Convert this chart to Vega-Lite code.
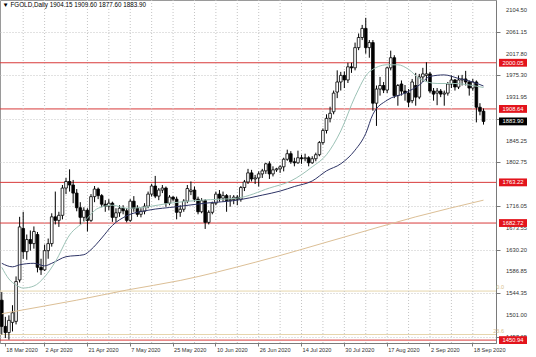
{
 "$schema": "https://vega.github.io/schema/vega-lite/v6.json",
 "width": 496,
 "height": 343,
 "autosize": {"type": "none"},
 "padding": {"left": 0, "top": 0, "right": 40, "bottom": 14},
 "background": "white",
 "config": {"view": {"stroke": "#9a9a9a", "strokeWidth": 1}, "font": "Liberation Sans"},
 "title": {"text": "▼ FGOLD,Daily  1904.15 1909.60 1877.60 1883.90", "anchor": "start", "orient": "top", "offset": -9, "dx": 3, "fontSize": 6.3, "fontWeight": "normal", "color": "#000000"},
 "datasets": {
  "bars": [
   {"d":"17 Mar 2020","o":1530,"h":1546,"l":1462,"c":1478},
   {"d":"18 Mar 2020","o":1478,"h":1497,"l":1455,"c":1466},
   {"d":"19 Mar 2020","o":1466,"h":1500,"l":1452,"c":1490},
   {"d":"20 Mar 2020","o":1486,"h":1520,"l":1468,"c":1505},
   {"d":"23 Mar 2020","o":1488,"h":1577,"l":1482,"c":1567},
   {"d":"24 Mar 2020","o":1570,"h":1695,"l":1565,"c":1675},
   {"d":"25 Mar 2020","o":1672,"h":1705,"l":1612,"c":1626},
   {"d":"26 Mar 2020","o":1626,"h":1660,"l":1610,"c":1650},
   {"d":"27 Mar 2020","o":1650,"h":1668,"l":1628,"c":1642},
   {"d":"30 Mar 2020","o":1642,"h":1676,"l":1632,"c":1666},
   {"d":"31 Mar 2020","o":1660,"h":1665,"l":1585,"c":1595},
   {"d":"1 Apr 2020","o":1595,"h":1612,"l":1580,"c":1590},
   {"d":"2 Apr 2020","o":1590,"h":1640,"l":1588,"c":1628},
   {"d":"3 Apr 2020","o":1628,"h":1652,"l":1612,"c":1642},
   {"d":"6 Apr 2020","o":1642,"h":1702,"l":1636,"c":1695},
   {"d":"7 Apr 2020","o":1695,"h":1745,"l":1680,"c":1688},
   {"d":"8 Apr 2020","o":1688,"h":1705,"l":1675,"c":1698},
   {"d":"9 Apr 2020","o":1698,"h":1758,"l":1690,"c":1752},
   {"d":"13 Apr 2020","o":1752,"h":1772,"l":1740,"c":1765},
   {"d":"14 Apr 2020","o":1765,"h":1789,"l":1745,"c":1758},
   {"d":"15 Apr 2020","o":1758,"h":1768,"l":1722,"c":1742},
   {"d":"16 Apr 2020","o":1742,"h":1750,"l":1706,"c":1713},
   {"d":"17 Apr 2020","o":1713,"h":1724,"l":1680,"c":1694},
   {"d":"20 Apr 2020","o":1694,"h":1714,"l":1686,"c":1708},
   {"d":"21 Apr 2020","o":1708,"h":1712,"l":1666,"c":1688},
   {"d":"22 Apr 2020","o":1688,"h":1740,"l":1685,"c":1735},
   {"d":"23 Apr 2020","o":1735,"h":1756,"l":1724,"c":1750},
   {"d":"24 Apr 2020","o":1750,"h":1753,"l":1730,"c":1737},
   {"d":"27 Apr 2020","o":1737,"h":1740,"l":1714,"c":1720},
   {"d":"28 Apr 2020","o":1720,"h":1728,"l":1705,"c":1716},
   {"d":"29 Apr 2020","o":1716,"h":1730,"l":1708,"c":1722},
   {"d":"30 Apr 2020","o":1722,"h":1725,"l":1685,"c":1694},
   {"d":"1 May 2020","o":1694,"h":1712,"l":1685,"c":1703},
   {"d":"4 May 2020","o":1703,"h":1718,"l":1695,"c":1712},
   {"d":"5 May 2020","o":1712,"h":1718,"l":1700,"c":1707},
   {"d":"6 May 2020","o":1707,"h":1712,"l":1684,"c":1688},
   {"d":"7 May 2020","o":1688,"h":1730,"l":1685,"c":1726},
   {"d":"8 May 2020","o":1726,"h":1736,"l":1705,"c":1712},
   {"d":"11 May 2020","o":1712,"h":1718,"l":1695,"c":1700},
   {"d":"12 May 2020","o":1700,"h":1712,"l":1694,"c":1706},
   {"d":"13 May 2020","o":1706,"h":1722,"l":1700,"c":1716},
   {"d":"14 May 2020","o":1716,"h":1745,"l":1712,"c":1740},
   {"d":"15 May 2020","o":1740,"h":1760,"l":1735,"c":1756},
   {"d":"18 May 2020","o":1756,"h":1776,"l":1732,"c":1736},
   {"d":"19 May 2020","o":1736,"h":1752,"l":1728,"c":1748},
   {"d":"20 May 2020","o":1748,"h":1758,"l":1742,"c":1752},
   {"d":"21 May 2020","o":1752,"h":1755,"l":1715,"c":1722},
   {"d":"22 May 2020","o":1722,"h":1738,"l":1718,"c":1734},
   {"d":"25 May 2020","o":1734,"h":1736,"l":1726,"c":1730},
   {"d":"26 May 2020","o":1730,"h":1735,"l":1690,"c":1704},
   {"d":"27 May 2020","o":1704,"h":1718,"l":1695,"c":1710},
   {"d":"28 May 2020","o":1710,"h":1730,"l":1705,"c":1726},
   {"d":"29 May 2020","o":1726,"h":1758,"l":1722,"c":1751},
   {"d":"1 Jun 2020","o":1745,"h":1765,"l":1738,"c":1748},
   {"d":"2 Jun 2020","o":1748,"h":1755,"l":1725,"c":1730},
   {"d":"3 Jun 2020","o":1730,"h":1735,"l":1700,"c":1705},
   {"d":"4 Jun 2020","o":1705,"h":1732,"l":1702,"c":1727},
   {"d":"5 Jun 2020","o":1727,"h":1730,"l":1671,"c":1684},
   {"d":"8 Jun 2020","o":1684,"h":1708,"l":1680,"c":1704},
   {"d":"9 Jun 2020","o":1704,"h":1725,"l":1700,"c":1722},
   {"d":"10 Jun 2020","o":1722,"h":1745,"l":1718,"c":1740},
   {"d":"11 Jun 2020","o":1740,"h":1748,"l":1725,"c":1732},
   {"d":"12 Jun 2020","o":1732,"h":1745,"l":1725,"c":1737},
   {"d":"15 Jun 2020","o":1737,"h":1740,"l":1705,"c":1727},
   {"d":"16 Jun 2020","o":1727,"h":1738,"l":1715,"c":1729},
   {"d":"17 Jun 2020","o":1729,"h":1738,"l":1720,"c":1734},
   {"d":"18 Jun 2020","o":1734,"h":1738,"l":1718,"c":1730},
   {"d":"19 Jun 2020","o":1730,"h":1756,"l":1725,"c":1753},
   {"d":"22 Jun 2020","o":1753,"h":1768,"l":1746,"c":1764},
   {"d":"23 Jun 2020","o":1764,"h":1790,"l":1760,"c":1782},
   {"d":"24 Jun 2020","o":1782,"h":1788,"l":1765,"c":1770},
   {"d":"25 Jun 2020","o":1770,"h":1778,"l":1760,"c":1772},
   {"d":"26 Jun 2020","o":1772,"h":1785,"l":1755,"c":1780},
   {"d":"29 Jun 2020","o":1780,"h":1790,"l":1772,"c":1786},
   {"d":"30 Jun 2020","o":1786,"h":1802,"l":1780,"c":1800},
   {"d":"1 Jul 2020","o":1800,"h":1805,"l":1770,"c":1780},
   {"d":"2 Jul 2020","o":1780,"h":1795,"l":1775,"c":1788},
   {"d":"3 Jul 2020","o":1788,"h":1792,"l":1784,"c":1790},
   {"d":"6 Jul 2020","o":1790,"h":1797,"l":1782,"c":1794},
   {"d":"7 Jul 2020","o":1794,"h":1812,"l":1785,"c":1809},
   {"d":"8 Jul 2020","o":1809,"h":1828,"l":1806,"c":1820},
   {"d":"9 Jul 2020","o":1820,"h":1825,"l":1800,"c":1804},
   {"d":"10 Jul 2020","o":1804,"h":1812,"l":1795,"c":1802},
   {"d":"13 Jul 2020","o":1802,"h":1826,"l":1800,"c":1812},
   {"d":"14 Jul 2020","o":1812,"h":1818,"l":1800,"c":1810},
   {"d":"15 Jul 2020","o":1810,"h":1820,"l":1805,"c":1812},
   {"d":"16 Jul 2020","o":1812,"h":1815,"l":1795,"c":1802},
   {"d":"17 Jul 2020","o":1802,"h":1815,"l":1800,"c":1810},
   {"d":"20 Jul 2020","o":1810,"h":1822,"l":1805,"c":1818},
   {"d":"21 Jul 2020","o":1818,"h":1845,"l":1815,"c":1842},
   {"d":"22 Jul 2020","o":1842,"h":1870,"l":1838,"c":1866},
   {"d":"23 Jul 2020","o":1866,"h":1898,"l":1860,"c":1890},
   {"d":"24 Jul 2020","o":1890,"h":1913,"l":1882,"c":1900},
   {"d":"27 Jul 2020","o":1903,"h":1945,"l":1898,"c":1940},
   {"d":"28 Jul 2020","o":1942,"h":1985,"l":1930,"c":1962},
   {"d":"29 Jul 2020","o":1962,"h":1982,"l":1945,"c":1975},
   {"d":"30 Jul 2020","o":1975,"h":1983,"l":1950,"c":1966},
   {"d":"31 Jul 2020","o":1966,"h":2000,"l":1960,"c":1992},
   {"d":"3 Aug 2020","o":1992,"h":2000,"l":1980,"c":1990},
   {"d":"4 Aug 2020","o":1990,"h":2040,"l":1985,"c":2030},
   {"d":"5 Aug 2020","o":2030,"h":2058,"l":2025,"c":2050},
   {"d":"6 Aug 2020","o":2050,"h":2075,"l":2045,"c":2068},
   {"d":"7 Aug 2020","o":2068,"h":2089,"l":2018,"c":2030},
   {"d":"10 Aug 2020","o":2030,"h":2045,"l":2010,"c":2040},
   {"d":"11 Aug 2020","o":2040,"h":2045,"l":1905,"c":1920},
   {"d":"12 Aug 2020","o":1920,"h":1955,"l":1875,"c":1948},
   {"d":"13 Aug 2020","o":1948,"h":1972,"l":1935,"c":1955},
   {"d":"14 Aug 2020","o":1955,"h":1962,"l":1940,"c":1946},
   {"d":"17 Aug 2020","o":1946,"h":1992,"l":1940,"c":1990},
   {"d":"18 Aug 2020","o":1990,"h":2024,"l":1985,"c":2010},
   {"d":"19 Aug 2020","o":2010,"h":2015,"l":1930,"c":1935},
   {"d":"20 Aug 2020","o":1935,"h":1958,"l":1915,"c":1955},
   {"d":"21 Aug 2020","o":1958,"h":1965,"l":1935,"c":1944},
   {"d":"24 Aug 2020","o":1944,"h":1956,"l":1925,"c":1940},
   {"d":"25 Aug 2020","o":1940,"h":1948,"l":1912,"c":1922},
   {"d":"26 Aug 2020","o":1925,"h":1968,"l":1920,"c":1962},
   {"d":"27 Aug 2020","o":1955,"h":1980,"l":1915,"c":1932},
   {"d":"28 Aug 2020","o":1932,"h":1978,"l":1928,"c":1972},
   {"d":"31 Aug 2020","o":1972,"h":1990,"l":1962,"c":1978},
   {"d":"1 Sep 2020","o":1975,"h":2001,"l":1962,"c":1978},
   {"d":"2 Sep 2020","o":1978,"h":1982,"l":1940,"c":1944},
   {"d":"3 Sep 2020","o":1944,"h":1950,"l":1925,"c":1938},
   {"d":"4 Sep 2020","o":1940,"h":1950,"l":1916,"c":1944},
   {"d":"7 Sep 2020","o":1944,"h":1948,"l":1932,"c":1938},
   {"d":"8 Sep 2020","o":1938,"h":1945,"l":1915,"c":1940},
   {"d":"9 Sep 2020","o":1940,"h":1962,"l":1935,"c":1958},
   {"d":"10 Sep 2020","o":1958,"h":1975,"l":1950,"c":1966},
   {"d":"11 Sep 2020","o":1966,"h":1968,"l":1945,"c":1952},
   {"d":"14 Sep 2020","o":1952,"h":1975,"l":1948,"c":1966},
   {"d":"15 Sep 2020","o":1966,"h":1976,"l":1955,"c":1968},
   {"d":"16 Sep 2020","o":1968,"h":1984,"l":1955,"c":1962},
   {"d":"17 Sep 2020","o":1962,"h":1965,"l":1935,"c":1950},
   {"d":"18 Sep 2020","o":1950,"h":1968,"l":1945,"c":1962},
   {"d":"21 Sep 2020","o":1962,"h":1965,"l":1882,"c":1912},
   {"d":"22 Sep 2020","o":1912,"h":1920,"l":1896,"c":1904},
   {"d":"23 Sep 2020","o":1904.15,"h":1909.6,"l":1877.6,"c":1883.9}
  ],
  "ma": [
   {"s":"long","d":"17 Mar 2020","v":1503},
   {"s":"long","d":"20 Mar 2020","v":1507},
   {"s":"long","d":"16 Apr 2020","v":1530},
   {"s":"long","d":"6 May 2020","v":1550},
   {"s":"long","d":"27 May 2020","v":1569},
   {"s":"long","d":"25 Jun 2020","v":1605},
   {"s":"long","d":"30 Jul 2020","v":1655},
   {"s":"long","d":"27 Aug 2020","v":1695},
   {"s":"long","d":"23 Sep 2020","v":1728},
   {"s":"slow","d":"17 Mar 2020","v":1603},
   {"s":"slow","d":"20 Mar 2020","v":1596},
   {"s":"slow","d":"24 Mar 2020","v":1600},
   {"s":"slow","d":"30 Mar 2020","v":1603},
   {"s":"slow","d":"2 Apr 2020","v":1598},
   {"s":"slow","d":"6 Apr 2020","v":1603},
   {"s":"slow","d":"13 Apr 2020","v":1616},
   {"s":"slow","d":"20 Apr 2020","v":1620},
   {"s":"slow","d":"22 Apr 2020","v":1630},
   {"s":"slow","d":"27 Apr 2020","v":1653},
   {"s":"slow","d":"30 Apr 2020","v":1678},
   {"s":"slow","d":"6 May 2020","v":1697},
   {"s":"slow","d":"14 May 2020","v":1708},
   {"s":"slow","d":"26 May 2020","v":1715},
   {"s":"slow","d":"5 Jun 2020","v":1722},
   {"s":"slow","d":"18 Jun 2020","v":1728},
   {"s":"slow","d":"29 Jun 2020","v":1738},
   {"s":"slow","d":"6 Jul 2020","v":1746},
   {"s":"slow","d":"10 Jul 2020","v":1755},
   {"s":"slow","d":"17 Jul 2020","v":1766},
   {"s":"slow","d":"23 Jul 2020","v":1786},
   {"s":"slow","d":"29 Jul 2020","v":1800},
   {"s":"slow","d":"4 Aug 2020","v":1827},
   {"s":"slow","d":"7 Aug 2020","v":1860},
   {"s":"slow","d":"11 Aug 2020","v":1898},
   {"s":"slow","d":"17 Aug 2020","v":1926},
   {"s":"slow","d":"24 Aug 2020","v":1940},
   {"s":"slow","d":"28 Aug 2020","v":1956},
   {"s":"slow","d":"2 Sep 2020","v":1973},
   {"s":"slow","d":"8 Sep 2020","v":1976},
   {"s":"slow","d":"14 Sep 2020","v":1969},
   {"s":"slow","d":"18 Sep 2020","v":1962},
   {"s":"slow","d":"23 Sep 2020","v":1954},
   {"s":"fast","d":"17 Mar 2020","v":1595},
   {"s":"fast","d":"19 Mar 2020","v":1572},
   {"s":"fast","d":"23 Mar 2020","v":1560},
   {"s":"fast","d":"25 Mar 2020","v":1554},
   {"s":"fast","d":"30 Mar 2020","v":1558},
   {"s":"fast","d":"2 Apr 2020","v":1576},
   {"s":"fast","d":"7 Apr 2020","v":1606},
   {"s":"fast","d":"14 Apr 2020","v":1659},
   {"s":"fast","d":"20 Apr 2020","v":1685},
   {"s":"fast","d":"24 Apr 2020","v":1712},
   {"s":"fast","d":"30 Apr 2020","v":1718},
   {"s":"fast","d":"6 May 2020","v":1712},
   {"s":"fast","d":"14 May 2020","v":1715},
   {"s":"fast","d":"22 May 2020","v":1722},
   {"s":"fast","d":"4 Jun 2020","v":1728},
   {"s":"fast","d":"18 Jun 2020","v":1732},
   {"s":"fast","d":"1 Jul 2020","v":1752},
   {"s":"fast","d":"9 Jul 2020","v":1766},
   {"s":"fast","d":"17 Jul 2020","v":1794},
   {"s":"fast","d":"23 Jul 2020","v":1818},
   {"s":"fast","d":"29 Jul 2020","v":1865},
   {"s":"fast","d":"4 Aug 2020","v":1933},
   {"s":"fast","d":"10 Aug 2020","v":1982},
   {"s":"fast","d":"17 Aug 2020","v":1996},
   {"s":"fast","d":"20 Aug 2020","v":1996},
   {"s":"fast","d":"25 Aug 2020","v":1987},
   {"s":"fast","d":"28 Aug 2020","v":1969},
   {"s":"fast","d":"4 Sep 2020","v":1959},
   {"s":"fast","d":"11 Sep 2020","v":1959},
   {"s":"fast","d":"17 Sep 2020","v":1956},
   {"s":"fast","d":"23 Sep 2020","v":1951}
  ],
  "grid": [
   {"d":"25 Mar 2020"},{"d":"2 Apr 2020"},{"d":"13 Apr 2020"},{"d":"21 Apr 2020"},{"d":"29 Apr 2020"},{"d":"7 May 2020"},{"d":"15 May 2020"},{"d":"25 May 2020"},{"d":"2 Jun 2020"},{"d":"10 Jun 2020"},{"d":"18 Jun 2020"},{"d":"26 Jun 2020"},{"d":"6 Jul 2020"},{"d":"14 Jul 2020"},{"d":"22 Jul 2020"},{"d":"30 Jul 2020"},{"d":"7 Aug 2020"},{"d":"17 Aug 2020"},{"d":"25 Aug 2020"},{"d":"2 Sep 2020"},{"d":"10 Sep 2020"},{"d":"18 Sep 2020"}
  ],
  "ticks": [{"v":2104.5},{"v":2061.15},{"v":2017.8},{"v":1975.3},{"v":1931.95},{"v":1845.25},{"v":1802.75},{"v":1716.05},{"v":1673.55},{"v":1630.2},{"v":1586.85},{"v":1544.35},{"v":1501.0},{"v":1457.65}],
  "levels": [{"v":2000.05},{"v":1908.64},{"v":1763.22},{"v":1682.72},{"v":1450.94}],
  "price": [{"v":1883.9}],
  "fib": [{"v":1548,"t":"0.0"},{"v":1462,"t":"23.6"}]
 },
 "layer": [
  {
   "data": {"name": "levels"},
   "mark": {"type": "rule", "color": "#d83a3a", "strokeWidth": 1},
   "encoding": {
    "y": {"field": "v", "type": "quantitative", "title": null, "scale": {"domain": [1445.2, 2124.3], "nice": false, "zero": false},
     "axis": {"orient": "right", "title": null, "values": [2104.5, 2061.15, 2017.8, 1975.3, 1931.95, 1888.6, 1845.25, 1802.75, 1759.4, 1716.05, 1673.55, 1630.2, 1586.85, 1544.35, 1501.0, 1457.65], "labels": false, "grid": true, "gridColor": "#c4c4c4", "gridDash": [1, 2], "domainColor": "#7a7a7a", "tickColor": "#7a7a7a", "tickSize": 4}}
   }
  },
  {
   "data": {"name": "ticks"},
   "mark": {"type": "text", "color": "#333333", "fontSize": 5.8, "align": "left", "baseline": "middle", "x": {"expr": "width + 10"}},
   "encoding": {
    "y": {"field": "v", "type": "quantitative", "title": null, "scale": {"domain": [1445.2, 2124.3], "nice": false, "zero": false}},
    "text": {"field": "v", "type": "quantitative", "format": ".2f"}
   }
  },
  {
   "data": {"name": "fib"},
   "mark": {"type": "rule", "color": "#e6d6ad", "strokeWidth": 1},
   "encoding": {"y": {"field": "v", "type": "quantitative", "title": null, "scale": {"domain": [1445.2, 2124.3], "nice": false, "zero": false}}}
  },
  {
   "encoding": {
    "x": {"field": "d", "type": "ordinal",
     "scale": {"type": "band", "paddingInner": 0.25, "paddingOuter": 0.125, "domain": ["17 Mar 2020","18 Mar 2020","19 Mar 2020","20 Mar 2020","23 Mar 2020","24 Mar 2020","25 Mar 2020","26 Mar 2020","27 Mar 2020","30 Mar 2020","31 Mar 2020","1 Apr 2020","2 Apr 2020","3 Apr 2020","6 Apr 2020","7 Apr 2020","8 Apr 2020","9 Apr 2020","13 Apr 2020","14 Apr 2020","15 Apr 2020","16 Apr 2020","17 Apr 2020","20 Apr 2020","21 Apr 2020","22 Apr 2020","23 Apr 2020","24 Apr 2020","27 Apr 2020","28 Apr 2020","29 Apr 2020","30 Apr 2020","1 May 2020","4 May 2020","5 May 2020","6 May 2020","7 May 2020","8 May 2020","11 May 2020","12 May 2020","13 May 2020","14 May 2020","15 May 2020","18 May 2020","19 May 2020","20 May 2020","21 May 2020","22 May 2020","25 May 2020","26 May 2020","27 May 2020","28 May 2020","29 May 2020","1 Jun 2020","2 Jun 2020","3 Jun 2020","4 Jun 2020","5 Jun 2020","8 Jun 2020","9 Jun 2020","10 Jun 2020","11 Jun 2020","12 Jun 2020","15 Jun 2020","16 Jun 2020","17 Jun 2020","18 Jun 2020","19 Jun 2020","22 Jun 2020","23 Jun 2020","24 Jun 2020","25 Jun 2020","26 Jun 2020","29 Jun 2020","30 Jun 2020","1 Jul 2020","2 Jul 2020","3 Jul 2020","6 Jul 2020","7 Jul 2020","8 Jul 2020","9 Jul 2020","10 Jul 2020","13 Jul 2020","14 Jul 2020","15 Jul 2020","16 Jul 2020","17 Jul 2020","20 Jul 2020","21 Jul 2020","22 Jul 2020","23 Jul 2020","24 Jul 2020","27 Jul 2020","28 Jul 2020","29 Jul 2020","30 Jul 2020","31 Jul 2020","3 Aug 2020","4 Aug 2020","5 Aug 2020","6 Aug 2020","7 Aug 2020","10 Aug 2020","11 Aug 2020","12 Aug 2020","13 Aug 2020","14 Aug 2020","17 Aug 2020","18 Aug 2020","19 Aug 2020","20 Aug 2020","21 Aug 2020","24 Aug 2020","25 Aug 2020","26 Aug 2020","27 Aug 2020","28 Aug 2020","31 Aug 2020","1 Sep 2020","2 Sep 2020","3 Sep 2020","4 Sep 2020","7 Sep 2020","8 Sep 2020","9 Sep 2020","10 Sep 2020","11 Sep 2020","14 Sep 2020","15 Sep 2020","16 Sep 2020","17 Sep 2020","18 Sep 2020","21 Sep 2020","22 Sep 2020","23 Sep 2020","x1","x2","x3"]},
     "axis": {"title": null, "values": ["18 Mar 2020","2 Apr 2020","21 Apr 2020","7 May 2020","25 May 2020","10 Jun 2020","26 Jun 2020","14 Jul 2020","30 Jul 2020","17 Aug 2020","2 Sep 2020","18 Sep 2020"], "bandPosition": 0.5, "labelAngle": 0, "labelAlign": "left", "labelOffset": 1, "labelFontSize": 5.6, "labelColor": "#333333", "labelPadding": 1, "tickSize": 3, "tickColor": "#7a7a7a", "domainColor": "#7a7a7a", "grid": false}}
   },
   "layer": [
    {
     "data": {"name": "grid"},
     "mark": {"type": "rule", "color": "#c4c4c4", "strokeDash": [1, 2], "strokeWidth": 1}
    },
    {
     "data": {"name": "bars"},
     "mark": {"type": "rule", "color": "#000000", "strokeWidth": 1},
     "encoding": {
      "y": {"field": "l", "type": "quantitative", "title": null, "scale": {"domain": [1445.2, 2124.3], "nice": false, "zero": false}},
      "y2": {"field": "h"}
     }
    },
    {
     "data": {"name": "bars"},
     "mark": {"type": "bar", "stroke": "#000000", "strokeWidth": 0.8},
     "encoding": {
      "y": {"field": "o", "type": "quantitative", "title": null, "scale": {"domain": [1445.2, 2124.3], "nice": false, "zero": false}},
      "y2": {"field": "c"},
      "fill": {"condition": {"test": "datum.c >= datum.o", "value": "#ffffff"}, "value": "#000000"}
     }
    },
    {
     "data": {"name": "ma"},
     "mark": {"type": "line", "strokeWidth": 1, "interpolate": "monotone"},
     "encoding": {
      "y": {"field": "v", "type": "quantitative", "title": null, "scale": {"domain": [1445.2, 2124.3], "nice": false, "zero": false}},
      "color": {"field": "s", "type": "nominal", "scale": {"domain": ["long", "slow", "fast"], "range": ["#dcbf96", "#2e3466", "#9cc2b6"]}, "legend": null},
      "order": {"value": null}
     }
    }
   ]
  },
  {
   "data": {"name": "levels"},
   "mark": {"type": "point", "shape": "M-1,-0.28H1V0.28H-1Z", "size": 784, "filled": true, "fill": "#e3141c", "strokeWidth": 0, "opacity": 1, "x": {"expr": "width + 17"}},
   "encoding": {"y": {"field": "v", "type": "quantitative", "title": null, "scale": {"domain": [1445.2, 2124.3], "nice": false, "zero": false}}}
  },
  {
   "data": {"name": "levels"},
   "mark": {"type": "text", "color": "#ffffff", "fontSize": 5.8, "align": "center", "baseline": "middle", "x": {"expr": "width + 17"}},
   "encoding": {
    "y": {"field": "v", "type": "quantitative", "title": null, "scale": {"domain": [1445.2, 2124.3], "nice": false, "zero": false}},
    "text": {"field": "v", "type": "quantitative", "format": ".2f"}
   }
  },
  {
   "data": {"name": "price"},
   "mark": {"type": "point", "shape": "M-1,-0.28H1V0.28H-1Z", "size": 784, "filled": true, "fill": "#000000", "strokeWidth": 0, "opacity": 1, "x": {"expr": "width + 17"}},
   "encoding": {"y": {"field": "v", "type": "quantitative", "title": null, "scale": {"domain": [1445.2, 2124.3], "nice": false, "zero": false}}}
  },
  {
   "data": {"name": "price"},
   "mark": {"type": "text", "color": "#ffffff", "fontSize": 5.8, "align": "center", "baseline": "middle", "x": {"expr": "width + 17"}},
   "encoding": {
    "y": {"field": "v", "type": "quantitative", "title": null, "scale": {"domain": [1445.2, 2124.3], "nice": false, "zero": false}},
    "text": {"field": "v", "type": "quantitative", "format": ".2f"}
   }
  },
  {
   "data": {"name": "fib"},
   "mark": {"type": "text", "color": "#d8c08a", "fontSize": 5.5, "align": "right", "baseline": "bottom", "dy": -1, "x": {"expr": "width + 8"}},
   "encoding": {
    "y": {"field": "v", "type": "quantitative", "title": null, "scale": {"domain": [1445.2, 2124.3], "nice": false, "zero": false}},
    "text": {"field": "t", "type": "nominal"}
   }
  }
 ]
}
